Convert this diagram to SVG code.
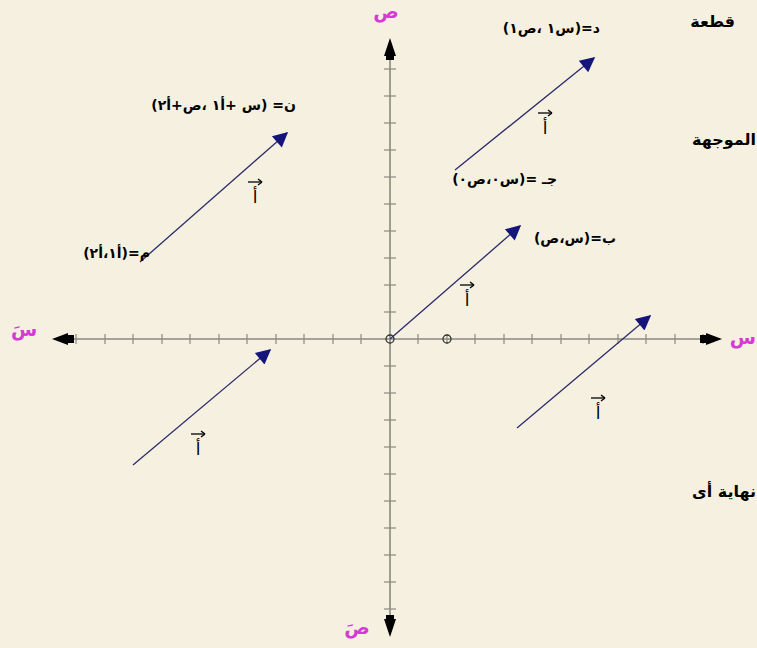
<svg xmlns="http://www.w3.org/2000/svg" width="757" height="648" viewBox="0 0 757 648">
<defs>
<style>
.ax{stroke:#8a8a80;stroke-width:1.6;fill:none}
.tk{stroke:#8a8a80;stroke-width:1.2}
.vec{stroke:#2b2b6b;stroke-width:1.3;fill:none}
.lbl{font-family:"DejaVu Sans","Noto Sans",sans-serif;font-size:14px;font-weight:bold;fill:#000}
.va{font-family:"DejaVu Sans","Noto Sans",sans-serif;font-size:17px;fill:#000}
.bar{stroke:#000;stroke-width:1.3;fill:none}
.big{font-family:"DejaVu Sans","Noto Sans",sans-serif;font-size:16px;font-weight:bold;fill:#000}
.pk{font-family:"DejaVu Sans","Noto Sans",sans-serif;font-size:19px;fill:#d63ad6;font-weight:bold}
</style>
<marker id="ah" viewBox="0 0 10 10" refX="9" refY="5" markerWidth="18" markerHeight="15" markerUnits="userSpaceOnUse" orient="auto">
<path d="M0,0 L10,5 L0,10 Z" fill="#14147a"/>
</marker>
</defs>
<rect width="757" height="648" fill="#f6f0e1"/>
<g id="axes">
<line class="ax" x1="60" y1="339" x2="715" y2="339"/>
<line class="ax" x1="390" y1="45" x2="390" y2="630"/>
<g class="tk">
<line x1="76" y1="334" x2="76" y2="344"/><line x1="105" y1="334" x2="105" y2="344"/><line x1="133" y1="334" x2="133" y2="344"/><line x1="162" y1="334" x2="162" y2="344"/><line x1="190" y1="334" x2="190" y2="344"/><line x1="219" y1="334" x2="219" y2="344"/><line x1="247" y1="334" x2="247" y2="344"/><line x1="276" y1="334" x2="276" y2="344"/><line x1="304" y1="334" x2="304" y2="344"/><line x1="333" y1="334" x2="333" y2="344"/><line x1="361" y1="334" x2="361" y2="344"/>
<line x1="418" y1="334" x2="418" y2="344"/><line x1="447" y1="334" x2="447" y2="344"/><line x1="475" y1="334" x2="475" y2="344"/><line x1="504" y1="334" x2="504" y2="344"/><line x1="532" y1="334" x2="532" y2="344"/><line x1="561" y1="334" x2="561" y2="344"/><line x1="589" y1="334" x2="589" y2="344"/><line x1="618" y1="334" x2="618" y2="344"/><line x1="646" y1="334" x2="646" y2="344"/><line x1="675" y1="334" x2="675" y2="344"/><line x1="703" y1="334" x2="703" y2="344"/>
<line x1="384" y1="312" x2="396" y2="312"/><line x1="384" y1="285" x2="396" y2="285"/><line x1="384" y1="258" x2="396" y2="258"/><line x1="384" y1="231" x2="396" y2="231"/><line x1="384" y1="204" x2="396" y2="204"/><line x1="384" y1="177" x2="396" y2="177"/><line x1="384" y1="150" x2="396" y2="150"/><line x1="384" y1="123" x2="396" y2="123"/><line x1="384" y1="96" x2="396" y2="96"/><line x1="384" y1="69" x2="396" y2="69"/>
<line x1="384" y1="366" x2="396" y2="366"/><line x1="384" y1="393" x2="396" y2="393"/><line x1="384" y1="420" x2="396" y2="420"/><line x1="384" y1="447" x2="396" y2="447"/><line x1="384" y1="474" x2="396" y2="474"/><line x1="384" y1="501" x2="396" y2="501"/><line x1="384" y1="528" x2="396" y2="528"/><line x1="384" y1="555" x2="396" y2="555"/><line x1="384" y1="582" x2="396" y2="582"/><line x1="384" y1="609" x2="396" y2="609"/>
</g>
<path d="M52,339 L68,333 L68,345 Z M68,335 L74,335 L74,343 L68,343 Z" fill="#000"/>
<path d="M722,339 L706,333 L706,345 Z M700,335 L706,335 L706,343 L700,343 Z" fill="#000"/>
<path d="M390,38 L384,56 L396,56 Z M386,56 L394,56 L394,60 L386,60 Z" fill="#000"/>
<path d="M390,637 L384,619 L396,619 Z M386,619 L394,619 L394,615 L386,615 Z" fill="#000"/>
<circle cx="390" cy="339" r="4" fill="none" stroke="#333" stroke-width="1.3"/>
<circle cx="447" cy="339" r="4" fill="none" stroke="#333" stroke-width="1.3"/>
</g>
<g id="connectors">
<line class="vec" x1="140" y1="262" x2="287" y2="133" marker-end="url(#ah)"/>
<line class="vec" x1="455" y1="170" x2="594" y2="58" marker-end="url(#ah)"/>
<line class="vec" x1="390" y1="339" x2="520" y2="226" marker-end="url(#ah)"/>
<line class="vec" x1="517" y1="428" x2="650" y2="316" marker-end="url(#ah)"/>
<line class="vec" x1="133" y1="465" x2="270" y2="350" marker-end="url(#ah)"/>
</g>
<g id="vector-labels">
<g><line class="bar" x1="248" y1="182" x2="262" y2="182"/><path d="M262,182 L258,179 M262,182 L258,185" class="bar"/><text class="va" x="255" y="203" text-anchor="middle">أ</text></g>
<g><line class="bar" x1="538" y1="113" x2="552" y2="113"/><path d="M552,113 L548,110 M552,113 L548,116" class="bar"/><text class="va" x="545" y="134" text-anchor="middle">أ</text></g>
<g><line class="bar" x1="460" y1="285" x2="474" y2="285"/><path d="M474,285 L470,282 M474,285 L470,288" class="bar"/><text class="va" x="467" y="306" text-anchor="middle">أ</text></g>
<g><line class="bar" x1="591" y1="398" x2="605" y2="398"/><path d="M605,398 L601,395 M605,398 L601,401" class="bar"/><text class="va" x="598" y="419" text-anchor="middle">أ</text></g>
<g><line class="bar" x1="191" y1="434" x2="205" y2="434"/><path d="M205,434 L201,431 M205,434 L201,437" class="bar"/><text class="va" x="198" y="455" text-anchor="middle">أ</text></g>
</g>
<g id="node-m"><text class="lbl" x="150" y="258" text-anchor="end">&#x202B;م=(أ١،أ٢)&#x202C;</text></g>
<g id="node-n"><text class="lbl" x="296" y="110" text-anchor="end">&#x202B;ن= (س +أ١ ،ص+أ٢)&#x202C;</text></g>
<g id="node-d"><text class="lbl" x="600" y="33" text-anchor="end">&#x202B;د=(س١ ،ص١)&#x202C;</text></g>
<g id="node-j"><text class="lbl" x="557" y="184" text-anchor="end">&#x202B;جـ =(س٠،ص٠)&#x202C;</text></g>
<g id="node-b"><text class="lbl" x="616" y="243" text-anchor="end">&#x202B;ب=(س،ص)&#x202C;</text></g>
<g id="axis-labels">
<text class="pk" x="386" y="18" text-anchor="middle">ص</text>
<text class="pk" x="24" y="336" text-anchor="middle">سَ</text>
<text class="pk" x="756" y="344" text-anchor="end">س</text>
<text class="pk" x="357" y="634" text-anchor="middle">صَ</text>
</g>
<g id="side-text">
<text class="big" x="735" y="27" text-anchor="end">&#x202B;قطعة&#x202C;</text>
<text class="big" x="756" y="145" text-anchor="end">&#x202B;الموجهة&#x202C;</text>
<text class="big" x="756" y="497" text-anchor="end">&#x202B;نهاية أى&#x202C;</text>
</g>
</svg>
